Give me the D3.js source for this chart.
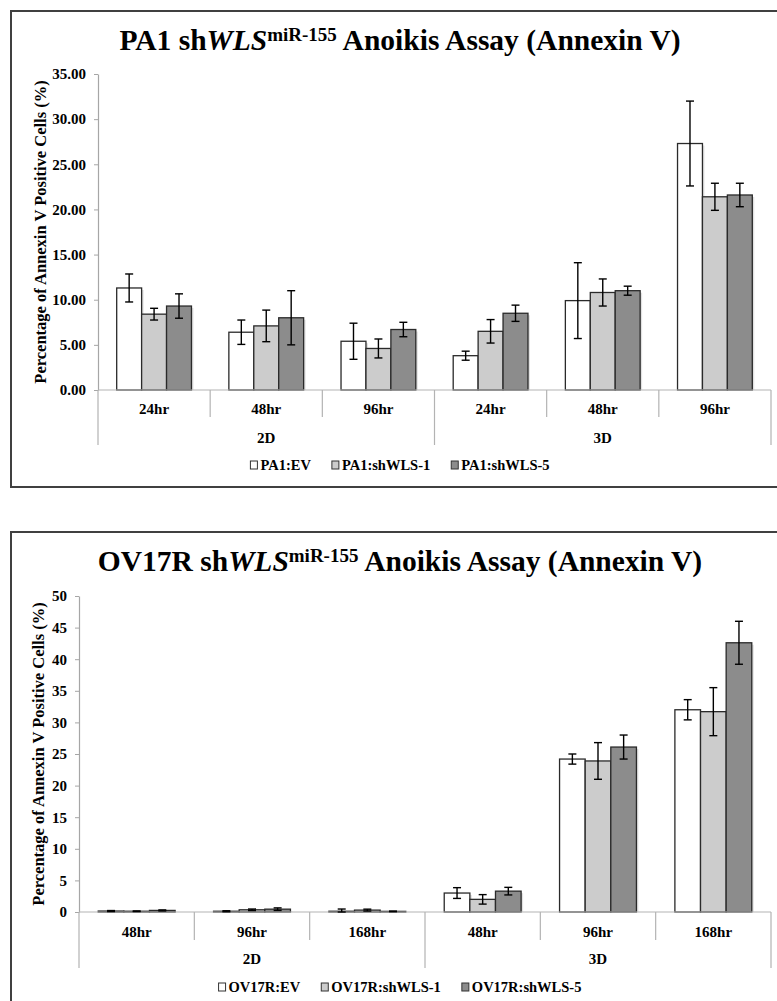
<!DOCTYPE html>
<html>
<head>
<meta charset="utf-8">
<script src="https://cdn.jsdelivr.net/npm/d3@7"></script>
<style>
  html, body { margin: 0; padding: 0; background: #fff; }
  svg { display: block; }
</style>
</head>
<body>
<svg id="chart" width="777" height="1001"></svg>
<script>
// ---------- DATA ----------
const seriesColors = ["#ffffff", "#cccccc", "#8c8c8c"];

// PA1 chart
const pa1Groups = ["2D", "3D"];
const pa1Times = ["24hr", "48hr", "96hr", "24hr", "48hr", "96hr"];
const pa1Series = ["PA1:EV", "PA1:shWLS-1", "PA1:shWLS-5"];
const pa1EV = [11.3, 6.4, 5.4, 3.8, 9.9, 27.3];
const pa1EVErr = [1.55, 1.35, 2.0, 0.5, 4.2, 4.7];
const pa1Sh1 = [8.4, 7.1, 4.6, 6.5, 10.8, 21.4];
const pa1Sh1Err = [0.65, 1.75, 1.05, 1.3, 1.5, 1.5];
const pa1Sh5 = [9.3, 8.0, 6.7, 8.5, 11.0, 21.6];
const pa1Sh5Err = [1.35, 3.0, 0.8, 0.9, 0.5, 1.3];
const pa1Ticks = [0, 5, 10, 15, 20, 25, 30, 35];

// OV17R chart
const ovGroups = ["2D", "3D"];
const ovTimes = ["48hr", "96hr", "168hr", "48hr", "96hr", "168hr"];
const ovSeries = ["OV17R:EV", "OV17R:shWLS-1", "OV17R:shWLS-5"];
const ovEV = [0.15, 0.12, 0.12, 3.0, 24.2, 32.0];
const ovEVErr = [0.08, 0.08, 0.35, 0.85, 0.8, 1.6];
const ovSh1 = [0.12, 0.35, 0.3, 2.0, 23.9, 31.7];
const ovSh1Err = [0.05, 0.12, 0.15, 0.75, 2.9, 3.8];
const ovSh5 = [0.25, 0.45, 0.1, 3.3, 26.1, 42.6];
const ovSh5Err = [0.08, 0.2, 0.05, 0.6, 1.9, 3.4];
const ovTicks = [0, 5, 10, 15, 20, 25, 30, 35, 40, 45, 50];

const yLabel = "Percentage of Annexin V Positive Cells (%)";

// ---------- DRAW ----------
const FONT = '"Liberation Serif", "Times New Roman", Tinos, serif';
const svg = d3.select("#chart").style("font-family", FONT);

function txt(sel, size) {
  return sel.style("font-family", FONT).style("font-weight", "bold")
    .style("font-size", size + "px").attr("fill", "#000");
}

function drawChart(cfg) {
  const g = svg.append("g");
  // frame
  g.append("rect")
    .attr("x", cfg.frame[0]).attr("y", cfg.frame[1])
    .attr("width", cfg.frame[2]).attr("height", cfg.frame[3])
    .attr("fill", "none").attr("stroke", "#404040").attr("stroke-width", 2);

  // title
  const t = txt(g.append("text"), 29.5)
    .attr("x", cfg.cx).attr("y", cfg.titleY)
    .attr("text-anchor", "middle");
  t.append("tspan").text(cfg.titlePre + " sh");
  t.append("tspan").style("font-style", "italic").text("WLS");
  t.append("tspan").attr("dy", -9).style("font-size", "19px").text("miR-155");
  t.append("tspan").attr("dy", 9).text(" Anoikis Assay (Annexin V)");

  const x = d3.scaleBand().domain(d3.range(cfg.times.length))
    .range([cfg.left, cfg.right]).paddingInner(0).paddingOuter(0);
  const step = x.step();
  const xs = d3.scaleBand().domain(d3.range(cfg.series.length))
    .range([step / 6, step * 5 / 6]).padding(0);
  const y = d3.scaleLinear().domain(cfg.yDomain).range([cfg.bottom, cfg.top]);

  // y axis
  const yAxis = d3.axisLeft(y).tickValues(cfg.ticks).tickFormat(cfg.fmt)
    .tickSizeInner(4).tickSizeOuter(0).tickPadding(8);
  const ya = g.append("g").attr("transform", `translate(${cfg.left},0)`).call(yAxis);
  ya.attr("font-family", null).attr("font-size", null);
  ya.select(".domain").attr("stroke", "#a6a6a6").attr("stroke-width", 1.2);
  ya.selectAll(".tick line").attr("stroke", "#a6a6a6");
  txt(ya.selectAll(".tick text"), 15);

  // y label
  txt(g.append("text"), 16.5)
    .attr("transform", `translate(${cfg.yLabelX},${(cfg.top + cfg.bottom) / 2}) rotate(-90)`)
    .attr("text-anchor", "middle").attr("dy", "0.35em")
    .text(yLabel);

  // bars
  const data = [];
  cfg.values.forEach((vals, si) => {
    vals.forEach((v, ci) => data.push({ si, ci, v, e: cfg.errs[si][ci] }));
  });
  const bw = xs.bandwidth();
  // shadow
  g.append("g").selectAll("rect").data(data).join("rect")
    .attr("x", d => x(d.ci) + xs(d.si) + 2)
    .attr("y", d => y(d.v) + 2)
    .attr("width", bw)
    .attr("height", d => Math.max(0, y(0) - y(d.v) - 2))
    .attr("fill", "#e2e2e2");
  g.append("g").selectAll("rect").data(data).join("rect")
    .attr("x", d => x(d.ci) + xs(d.si))
    .attr("y", d => y(d.v))
    .attr("width", bw)
    .attr("height", d => y(0) - y(d.v))
    .attr("fill", d => seriesColors[d.si])
    .attr("stroke", "#2a2a2a").attr("stroke-width", 1.3);

  // x axis line
  g.append("line").attr("x1", cfg.left).attr("x2", cfg.right)
    .attr("y1", y(0)).attr("y2", y(0))
    .attr("stroke", "#b3b3b3").attr("stroke-width", 1.2);

  // error bars
  const eg = g.append("g").attr("stroke", "#000").attr("stroke-width", 1.4);
  data.forEach(d => {
    const cx = x(d.ci) + xs(d.si) + bw / 2;
    const y1 = y(d.v + d.e), y2 = y(Math.max(0, d.v - d.e));
    eg.append("line").attr("x1", cx).attr("x2", cx).attr("y1", y1).attr("y2", y2);
    eg.append("line").attr("x1", cx - 4).attr("x2", cx + 4).attr("y1", y1).attr("y2", y1);
    eg.append("line").attr("x1", cx - 4).attr("x2", cx + 4).attr("y1", y2).attr("y2", y2);
  });

  // category separators
  const nPer = cfg.times.length / cfg.groups.length;
  const sep = g.append("g").attr("stroke", "#b3b3b3").attr("stroke-width", 1.2);
  for (let i = 0; i <= cfg.times.length; i++) {
    const xx = i === cfg.times.length ? cfg.right : x(i);
    const outer = (i % nPer === 0);
    sep.append("line").attr("x1", xx).attr("x2", xx)
      .attr("y1", y(0)).attr("y2", outer ? cfg.sepOuter : cfg.sepInner);
  }
  // time labels
  txt(g.append("g").selectAll("text").data(cfg.times).join("text"), 15)
    .attr("x", (d, i) => x(i) + step / 2).attr("y", cfg.timeY)
    .attr("text-anchor", "middle").attr("dy", "0.35em")
    .text(d => d);
  // group labels
  txt(g.append("g").selectAll("text").data(cfg.groups).join("text"), 15)
    .attr("x", (d, i) => x(i * nPer) + step * nPer / 2).attr("y", cfg.groupY)
    .attr("text-anchor", "middle").attr("dy", "0.35em")
    .text(d => d);

  // legend
  const lg = g.append("g");
  const items = cfg.series.map((s, i) => {
    const it = lg.append("g");
    it.append("rect").attr("x", 0).attr("y", -4).attr("width", 7).attr("height", 8)
      .attr("fill", seriesColors[i]).attr("stroke", "#333").attr("stroke-width", 1);
    const tx = txt(it.append("text"), 14.5).attr("x", 10).attr("y", 0).attr("dy", "0.35em")
      .text(s);
    return { it, w: 10 + tx.node().getComputedTextLength() };
  });
  const gap = 21;
  const total = d3.sum(items, d => d.w) + gap * (items.length - 1);
  let cur = cfg.cx - total / 2;
  items.forEach(d => {
    d.it.attr("transform", `translate(${cur},${cfg.legendY})`);
    cur += d.w + gap;
  });
}

drawChart({
  frame: [11, 11, 790, 476], cx: 400, titleY: 50, titlePre: "PA1",
  left: 98, right: 771, top: 74, bottom: 390, yDomain: [0, 35],
  ticks: pa1Ticks, fmt: d3.format(".2f"), yLabelX: 40,
  times: pa1Times, groups: pa1Groups, series: pa1Series,
  values: [pa1EV, pa1Sh1, pa1Sh5], errs: [pa1EVErr, pa1Sh1Err, pa1Sh5Err],
  timeY: 409, groupY: 437.5, sepInner: 417, sepOuter: 445, legendY: 465
});

drawChart({
  frame: [11, 532, 790, 500], cx: 400, titleY: 571, titlePre: "OV17R",
  left: 79, right: 771, top: 596, bottom: 912, yDomain: [0, 50],
  ticks: ovTicks, fmt: d3.format("d"), yLabelX: 38,
  times: ovTimes, groups: ovGroups, series: ovSeries,
  values: [ovEV, ovSh1, ovSh5], errs: [ovEVErr, ovSh1Err, ovSh5Err],
  timeY: 932, groupY: 959, sepInner: 940, sepOuter: 968, legendY: 987
});
</script>
</body>
</html>
